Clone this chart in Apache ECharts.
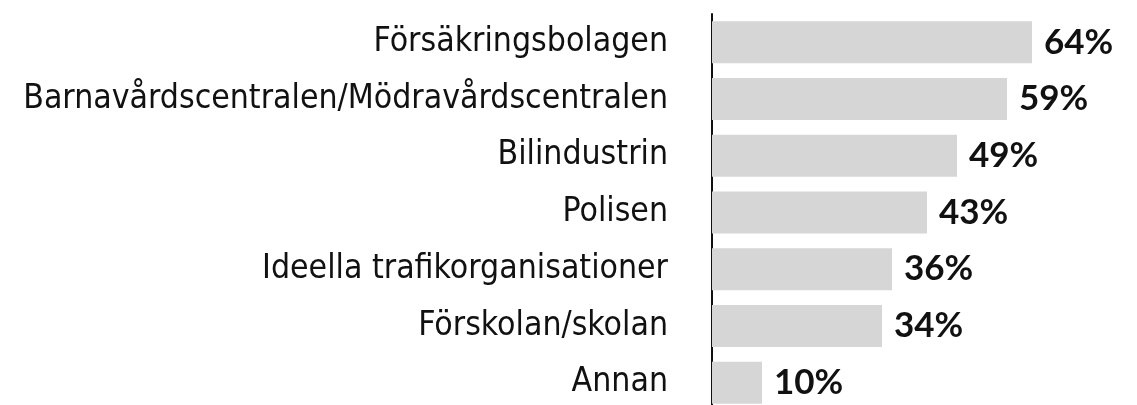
<!DOCTYPE html>
<html>
<head>
<meta charset="utf-8">
<script src="https://cdn.jsdelivr.net/npm/echarts@6/dist/echarts.min.js"></script>
<style>
  html, body { margin: 0; padding: 0; background: #fff; }
  #chart { width: 1137px; height: 405px; }
</style>
</head>
<body>
<div id="chart"></div>
<script>
// categories, top to bottom
var categories = [
    'Försäkringsbolagen',
    'Barnavårdscentralen/Mödravårdscentralen',
    'Bilindustrin',
    'Polisen',
    'Ideella trafikorganisationer',
    'Förskolan/skolan',
    'Annan'
];
var values = [64, 59, 49, 43, 36, 34, 10];

var myChart = echarts.init(document.getElementById('chart'));

var option = {
    animation: false,
    grid: {
        left: 712,
        right: 25,
        top: 14,
        bottom: -6,
        outerBoundsMode: 'none'
    },
    xAxis: {
        type: 'value',
        min: 0,
        max: 80,
        show: false
    },
    yAxis: {
        type: 'category',
        inverse: true,
        data: categories,
        axisLine: { show: true, lineStyle: { color: '#111', width: 2 } },
        axisTick: { show: false },
        axisLabel: {
            margin: 44,
            color: '#111',
            fontSize: 33.5,
            fontFamily: '"DejaVu Sans Condensed", "DejaVu Sans"'
        }
    },
    series: [
        {
            type: 'bar',
            data: values,
            barWidth: '74%',
            itemStyle: { color: '#d6d6d6' },
            label: {
                show: true,
                position: 'right',
                distance: 12,
                formatter: '{c}%',
                color: '#111',
                fontSize: 35,
                fontWeight: 'bold',
                fontFamily: 'Lato'
            }
        }
    ]
};

myChart.setOption(option);
</script>
</body>
</html>
